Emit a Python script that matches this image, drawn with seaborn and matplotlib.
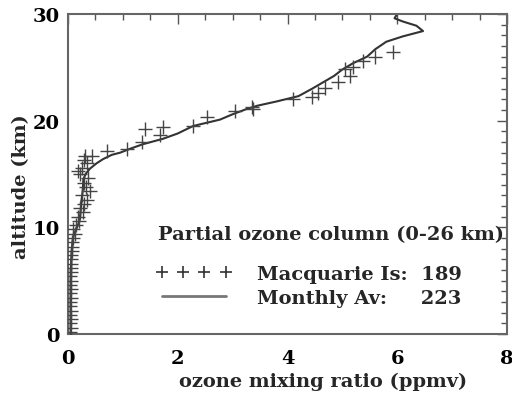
import matplotlib
matplotlib.use("Agg")
import matplotlib.pyplot as plt
from matplotlib.lines import Line2D
from matplotlib.ticker import MultipleLocator
import seaborn as sns
import pandas as pd

# Monthly average profile
avg_ozone = [0.05, 0.05, 0.05, 0.05, 0.05, 0.05, 0.05, 0.06, 0.07, 0.09, 0.13, 0.18, 0.22, 0.23, 0.25,
             0.27, 0.28, 0.32, 0.40, 0.52, 0.64, 0.80, 0.95, 1.15, 1.37, 1.73, 2.00, 2.28, 2.77, 3.00,
             3.26, 3.45, 3.80, 4.20, 4.45, 4.65, 4.85, 5.00, 5.20, 5.45, 5.60, 5.80, 6.10, 6.47, 6.35,
             6.10, 5.95, 6.00]
avg_alt = [0, 1, 2, 3, 4, 5, 6, 7, 8, 9, 9.6, 10.2, 10.8, 11.5, 12.7,
           13.5, 14.5, 15.0, 15.5, 16.0, 16.4, 16.8, 17.0, 17.4, 17.8, 18.3, 18.8, 19.5, 20.1, 20.6,
           21.1, 21.4, 21.8, 22.3, 23.0, 23.6, 24.2, 24.8, 25.4, 26.0, 26.7, 27.4, 27.9, 28.4, 28.9,
           29.3, 29.6, 30.0]

# Macquarie Island sonde
mac_alt = [0.2, 0.6, 1.0, 1.4, 1.8, 2.2, 2.6, 3.0, 3.4, 3.8, 4.2, 4.6, 5.0, 5.4, 5.8, 6.2, 6.6,
           7.0, 7.4, 7.8, 8.2, 8.6, 9.0, 9.4, 9.8, 10.2, 10.6, 11.0, 11.4, 11.8, 12.2, 12.6, 13.0,
           13.4, 13.8, 14.2, 14.6, 15.0, 15.3, 15.6, 16.0, 16.3, 16.7, 16.7, 17.2, 17.3, 18.0,
           18.7, 19.2, 19.4, 19.5, 20.3, 20.9, 21.3, 21.1, 22.0, 22.2, 22.6, 23.1, 23.6, 24.2,
           24.8, 25.0, 25.6, 26.0, 26.4]
mac_ozone = [0.04, 0.05, 0.04, 0.05, 0.04, 0.05, 0.04, 0.04, 0.05, 0.04, 0.05, 0.04, 0.05, 0.04, 0.05, 0.05, 0.06,
             0.05, 0.06, 0.07, 0.08, 0.07, 0.10, 0.12, 0.10, 0.15, 0.20, 0.18, 0.28, 0.22, 0.30, 0.35, 0.25,
             0.40, 0.32, 0.30, 0.36, 0.22, 0.18, 0.25, 0.35, 0.30, 0.43, 0.31, 0.71, 1.07, 1.35,
             1.68, 1.40, 1.73, 2.28, 2.53, 3.04, 3.35, 3.37, 4.10, 4.44, 4.55, 4.68, 4.92, 5.13,
             5.05, 5.20, 5.37, 5.59, 5.92]

legend_title = "Partial ozone column (0-26 km)"
legend_labels = ["Macquarie Is:  189", "Monthly Av:     223"]

avg_df = pd.DataFrame({"ozone": avg_ozone, "alt": avg_alt})
mac_df = pd.DataFrame({"ozone": mac_ozone, "alt": mac_alt})

sns.set_theme(style="white")
plt.rcParams["font.family"] = ["DejaVu Serif"]
plt.rcParams["font.weight"] = "bold"

FS = 14

fig = plt.figure(figsize=(5.12, 4.02), dpi=100)
ax = fig.add_axes([68/512, 1-335/402, (507-68)/512, (335-15)/402])

sns.scatterplot(data=mac_df, x="ozone", y="alt", marker="+", s=90, color="#444444",
                linewidth=1.0, ax=ax, legend=False, zorder=3)
sns.lineplot(data=avg_df, x="ozone", y="alt", sort=False, estimator=None, color="#333333",
             linewidth=1.5, ax=ax, legend=False, zorder=2)

ax.set_xlim(0, 8)
ax.set_ylim(0, 30)
ax.xaxis.set_major_locator(MultipleLocator(2))
ax.xaxis.set_minor_locator(MultipleLocator(0.5))
ax.yaxis.set_major_locator(MultipleLocator(10))
ax.yaxis.set_minor_locator(MultipleLocator(1))
ax.tick_params(which="both", direction="in", top=True, right=True, colors="#555555",
               labelcolor="black", labelsize=FS)
ax.tick_params(axis="x", which="major", length=7, width=1.0, pad=11)
ax.tick_params(axis="y", which="major", length=7, width=1.0, pad=6)
ax.tick_params(which="minor", length=4, width=1.0)
for lbl in ax.get_xticklabels() + ax.get_yticklabels():
    lbl.set_fontweight("bold")
for sp in ax.spines.values():
    sp.set_color("#666666")
    sp.set_linewidth(1.5)

ax.set_xlabel("ozone mixing ratio (ppmv)", fontsize=FS, fontweight="bold")
ax.xaxis.set_label_coords(0.58, -0.118)
ax.set_ylabel("altitude (km)", fontsize=FS, fontweight="bold")
ax.yaxis.set_label_coords(-0.087, 0.4625)

ax.text(0.205, 0.3125, legend_title, transform=ax.transAxes, ha="left", va="center",
        fontsize=FS, fontweight="bold")

handles = [Line2D([], [], marker="+", linestyle="none", color="#333333", markersize=9, markeredgewidth=1.2),
           Line2D([], [], color="#777777", linewidth=2)]
leg = ax.legend(handles, legend_labels, numpoints=4, frameon=False,
                loc="upper left", bbox_to_anchor=(0.2, 0.216), prop={"size": FS, "weight": "bold"},
                handlelength=3.9, handletextpad=1.3, labelspacing=0.3, borderpad=0, borderaxespad=0)

fig.savefig("out.png", dpi=100)
